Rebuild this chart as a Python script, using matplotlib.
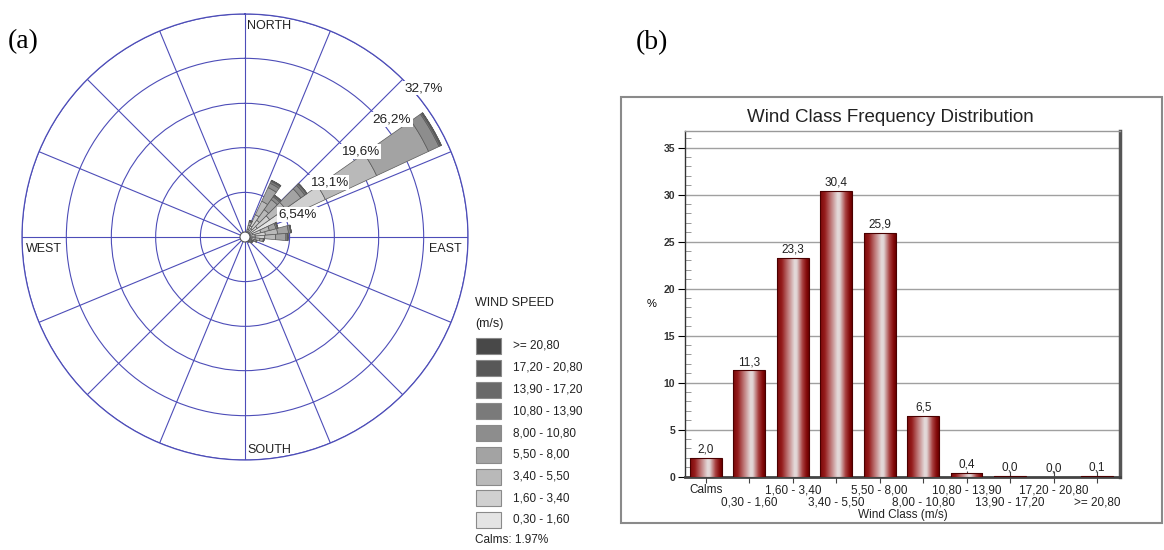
import numpy as np
import matplotlib
matplotlib.use("Agg")
import matplotlib.pyplot as plt
from matplotlib.patches import Rectangle
from matplotlib.colors import LinearSegmentedColormap

plt.rcParams['font.family'] = ['Liberation Sans', 'DejaVu Sans']

# ---------------- data: wind rose (a) ----------------
directions_deg = [10, 20, 30, 40, 50, 60, 70, 80, 90, 100, 110, 120,
                  130, 140, 150, 160, 170, 180, 190, 200, 210, 220, 230, 240,
                  250, 260, 270, 280, 290, 300, 310, 320, 330, 340, 350, 360]
speed_classes = ['0,30 - 1,60', '1,60 - 3,40', '3,40 - 5,50', '5,50 - 8,00',
                 '8,00 - 10,80', '10,80 - 13,90', '13,90 - 17,20',
                 '17,20 - 20,80', '>= 20,80']
class_colors = ['#e4e4e4', '#d0d0d0', '#b9b9b9', '#a3a3a3', '#8d8d8d',
                '#7a7a7a', '#696969', '#585858', '#484848']
freq_c1 = [0.15, 0.6, 1.8, 1.5, 2.2, 6.5, 1.2, 1.5, 1.5, 0.8, 0.5, 0.4,
           0.35, 0.3, 0.25, 0.2, 0.15, 0.12, 0.1, 0.1, 0.08, 0.08, 0.07, 0.07,
           0.06, 0.06, 0.06, 0.06, 0.06, 0.06, 0.07, 0.07, 0.08, 0.08, 0.1, 0.12]
freq_c2 = [0.1, 0.6, 1.8, 1.5, 2.2, 6.5, 1.2, 1.5, 1.4, 0.7, 0.5, 0.4,
           0.35, 0.3, 0.2, 0.15, 0.12, 0.1, 0.08, 0.05, 0.05, 0.05, 0.05, 0.05,
           0.05, 0.05, 0.05, 0.05, 0.05, 0.05, 0.05, 0.05, 0.05, 0.05, 0.05, 0.08]
freq_c3 = [0.1, 0.6, 2.2, 1.9, 2.8, 8.3, 1.3, 1.8, 1.6, 0.7, 0.4, 0.3,
           0.3, 0.2, 0.15, 0.1, 0.08, 0.06, 0.03, 0.03, 0.03, 0.03, 0.03, 0.03,
           0.03, 0.03, 0.03, 0.03, 0.03, 0.03, 0.03, 0.03, 0.03, 0.03, 0.03, 0.05]
freq_c4 = [0.05, 0.5, 2.2, 1.8, 2.8, 8.4, 1.0, 1.6, 1.5, 0.5, 0.3, 0.2,
           0.2, 0.1, 0.1, 0.05, 0.04, 0.02, 0.02, 0.02, 0.02, 0.02, 0.02, 0.02,
           0.02, 0.02, 0.02, 0.02, 0.02, 0.02, 0.02, 0.02, 0.02, 0.02, 0.02, 0.02]
freq_c5 = [0.0, 0.15, 0.7, 0.5, 0.7, 1.7, 0.2, 0.3, 0.2, 0.1, 0.1, 0.0,
           0.05, 0.03, 0.0, 0.0, 0.0, 0.0, 0.0, 0.0, 0.0, 0.0, 0.0, 0.0,
           0.0, 0.0, 0.0, 0.0, 0.0, 0.0, 0.0, 0.0, 0.0, 0.0, 0.0, 0.0]
freq_c6 = [0.0, 0.05, 0.3, 0.2, 0.3, 0.2, 0.1, 0.1, 0.1, 0.0, 0.0, 0.0,
           0.0, 0.0, 0.0, 0.0, 0.0, 0.0, 0.0, 0.0, 0.0, 0.0, 0.0, 0.0,
           0.0, 0.0, 0.0, 0.0, 0.0, 0.0, 0.0, 0.0, 0.0, 0.0, 0.0, 0.0]
freq_c7 = [0.0, 0.0, 0.1, 0.1, 0.1, 0.1, 0.0, 0.0, 0.0, 0.0, 0.0, 0.0,
           0.0, 0.0, 0.0, 0.0, 0.0, 0.0, 0.0, 0.0, 0.0, 0.0, 0.0, 0.0,
           0.0, 0.0, 0.0, 0.0, 0.0, 0.0, 0.0, 0.0, 0.0, 0.0, 0.0, 0.0]
freq_c8 = [0.0, 0.0, 0.05, 0.0, 0.0, 0.05, 0.0, 0.0, 0.0, 0.0, 0.0, 0.0,
           0.0, 0.0, 0.0, 0.0, 0.0, 0.0, 0.0, 0.0, 0.0, 0.0, 0.0, 0.0,
           0.0, 0.0, 0.0, 0.0, 0.0, 0.0, 0.0, 0.0, 0.0, 0.0, 0.0, 0.0]
freq_c9 = [0.0, 0.0, 0.05, 0.0, 0.0, 0.05, 0.0, 0.0, 0.0, 0.0, 0.0, 0.0,
           0.0, 0.0, 0.0, 0.0, 0.0, 0.0, 0.0, 0.0, 0.0, 0.0, 0.0, 0.0,
           0.0, 0.0, 0.0, 0.0, 0.0, 0.0, 0.0, 0.0, 0.0, 0.0, 0.0, 0.0]
ring_values = [6.54, 13.1, 19.6, 26.2, 32.7]
ring_labels = ['6,54%', '13,1%', '19,6%', '26,2%', '32,7%']
calms_text = 'Calms: 1.97%'

# ---------------- data: bar chart (b) ----------------
wind_classes = ['Calms', '0,30 - 1,60', '1,60 - 3,40', '3,40 - 5,50',
                '5,50 - 8,00', '8,00 - 10,80', '10,80 - 13,90',
                '13,90 - 17,20', '17,20 - 20,80', '>= 20,80']
class_freq = [2.0, 11.3, 23.3, 30.4, 25.9, 6.5, 0.4, 0.04, 0.0, 0.1]
y_ticks = [0, 5, 10, 15, 20, 25, 30, 35]

W, H = 1164, 550
fig = plt.figure(figsize=(W / 100, H / 100), dpi=100)

def fx(px):
    return px / W

def fy(py):
    return 1 - py / H

# ================= (a) wind rose =================
cx, cy, R = 245, 237, 223
axp = fig.add_axes([fx(cx - R), fy(cy + R), 2 * R / W, 2 * R / H], projection='polar')
axp.set_theta_zero_location('N')
axp.set_theta_direction(-1)
axp.set_rlim(0, ring_values[-1])
grid_col = '#4d4db8'
axp.set_rticks(ring_values)
axp.set_yticklabels([])
axp.set_xticks(np.deg2rad(np.arange(0, 360, 22.5)))
axp.set_xticklabels([])
axp.grid(True, color=grid_col, lw=0.8)
axp.spines['polar'].set_color(grid_col)
axp.spines['polar'].set_linewidth(0.9)
axp.set_axisbelow(True)

theta = np.deg2rad(directions_deg)
width = np.deg2rad(10.0)
bottom = np.zeros(len(directions_deg))
for vals, col in zip([freq_c1, freq_c2, freq_c3, freq_c4, freq_c5,
                      freq_c6, freq_c7, freq_c8, freq_c9], class_colors):
    v = np.array(vals)
    axp.bar(theta, v, width=width, bottom=bottom, color=col,
            edgecolor='#5a5a5a', linewidth=0.5, zorder=3)
    bottom = bottom + v

# calm circle
axp.add_artist(plt.Circle((0.5, 0.5), 5 / (2 * R), transform=axp.transAxes,
                          facecolor='white', edgecolor='#555555', lw=0.8, zorder=5))

for rv, rl in zip(ring_values, ring_labels):
    axp.annotate(rl, xy=(np.deg2rad(45), rv), xytext=(1.0, -2.0),
                 textcoords='offset points', ha='left', va='top', fontsize=9.7,
                 color='#222222', zorder=6, annotation_clip=False,
                 bbox=dict(boxstyle='square,pad=0.1', fc='white', ec='none'))

dir_kw = dict(transform=axp.transAxes, fontsize=9, color='#222222', va='center')
axp.text(0.505, 0.973, 'NORTH', ha='left', **dir_kw)
axp.text(0.505, 0.0235, 'SOUTH', ha='left', **dir_kw)
axp.text(0.9865, 0.473, 'EAST', ha='right', **dir_kw)
axp.text(0.009, 0.473, 'WEST', ha='left', **dir_kw)

# legend
fig.text(fx(475), fy(303.5), 'WIND SPEED', fontsize=9, va='center', ha='left', color='#222222')
fig.text(fx(475), fy(324), '(m/s)', fontsize=9, va='center', ha='left', color='#222222')
for k, (lab, col) in enumerate(zip(speed_classes[::-1], class_colors[::-1])):
    top = 338 + k * 21.75
    fig.add_artist(Rectangle((fx(476), fy(top + 16)), 25 / W, 16 / H,
                             transform=fig.transFigure, facecolor=col,
                             edgecolor='#8a8a8a', lw=0.8))
    fig.text(fx(513), fy(top + 8), lab, fontsize=8.5, va='center', ha='left', color='#222222')
fig.text(fx(475), fy(540), calms_text, fontsize=8.5, va='center', ha='left', color='#222222')

# panel labels
fig.text(fx(8), fy(42), '(a)', family='Liberation Serif', fontsize=20, va='center', ha='left')
fig.text(fx(636), fy(43), '(b)', family='Liberation Serif', fontsize=20, va='center', ha='left')

# ================= (b) bar chart =================
fig.add_artist(Rectangle((fx(621), fy(523)), (1162 - 621) / W, (523 - 97) / H,
                         transform=fig.transFigure, facecolor='none',
                         edgecolor='#8a8a8a', lw=1.5))
fig.text(fx(890), fy(117), 'Wind Class Frequency Distribution', fontsize=13.5,
         ha='center', va='center', color='#222222')

ax = fig.add_axes([fx(685), fy(476.7), (1120 - 685) / W, (476.7 - 130.7) / H])
cmap = LinearSegmentedColormap.from_list('bar', [
    (0.0, '#7a0808'), (0.15, '#951c1c'), (0.35, '#c07c7c'),
    (0.55, '#e4dada'), (0.62, '#e0d4d4'), (0.8, '#a84040'),
    (0.92, '#860c0c'), (1.0, '#6a0000')])
grad = np.linspace(0, 1, 256).reshape(1, -1)
bw = 0.73
xs = np.arange(len(wind_classes))
for xi, v in zip(xs, class_freq):
    x0 = xi - bw / 2
    if v > 0:
        im = ax.imshow(grad, extent=[x0, x0 + bw, 0, v], aspect='auto',
                       cmap=cmap, zorder=3, interpolation='bilinear')
        rect = Rectangle((x0, 0), bw, v, facecolor='none', edgecolor='#4a0000',
                         lw=0.8, zorder=4)
        ax.add_patch(rect)
        im.set_clip_path(rect)
    ax.text(xi, v + 0.25, f'{v:.1f}'.replace('.', ','), ha='center', va='bottom',
            fontsize=8.5, color='#222222', zorder=5)

ax.set_xlim(-0.48, 9.53)
ax.set_ylim(0, 36.8)
ax.set_yticks(y_ticks)
ax.set_yticklabels([str(t) for t in y_ticks], fontsize=7.5, fontweight='bold', color='#333333')
ax.set_yticks(np.arange(0, 36.8, 1), minor=True)
ax.tick_params(axis='y', which='major', direction='out', length=5, width=0.8, pad=2)
ax.tick_params(axis='y', which='minor', direction='in', length=4, width=0.6, color='#888888')
ax.grid(axis='y', which='major', color='#a0a0a0', lw=1.0, zorder=1)
ax.set_axisbelow(True)

# staggered x labels: even classes on first row (major), odd on second row (minor)
ax.set_xticks(xs[0::2])
ax.set_xticklabels(wind_classes[0::2], fontsize=8.5, color='#222222')
ax.set_xticks(xs[1::2], minor=True)
ax.set_xticklabels(wind_classes[1::2], minor=True, fontsize=8.5, color='#222222')
ax.tick_params(axis='x', which='major', direction='inout', length=9, width=0.8,
               color='#444444', pad=1)
ax.tick_params(axis='x', which='minor', direction='inout', length=9, width=0.8,
               color='#444444', pad=9.8)
ax.set_xlabel('Wind Class (m/s)', fontsize=8.5, color='#222222', labelpad=0)
ax.text(-0.0766, 0.5, '%', transform=ax.transAxes, ha='center', va='center', fontsize=8)

ax.spines['left'].set_color('#333333')
ax.spines['left'].set_linewidth(1.0)
ax.spines['top'].set_color('#999999')
ax.spines['top'].set_linewidth(1.0)
ax.spines['right'].set_color('#555555')
ax.spines['right'].set_linewidth(2.5)
ax.spines['bottom'].set_color('#444444')
ax.spines['bottom'].set_linewidth(2.0)

fig.savefig('out.png', dpi=100)
